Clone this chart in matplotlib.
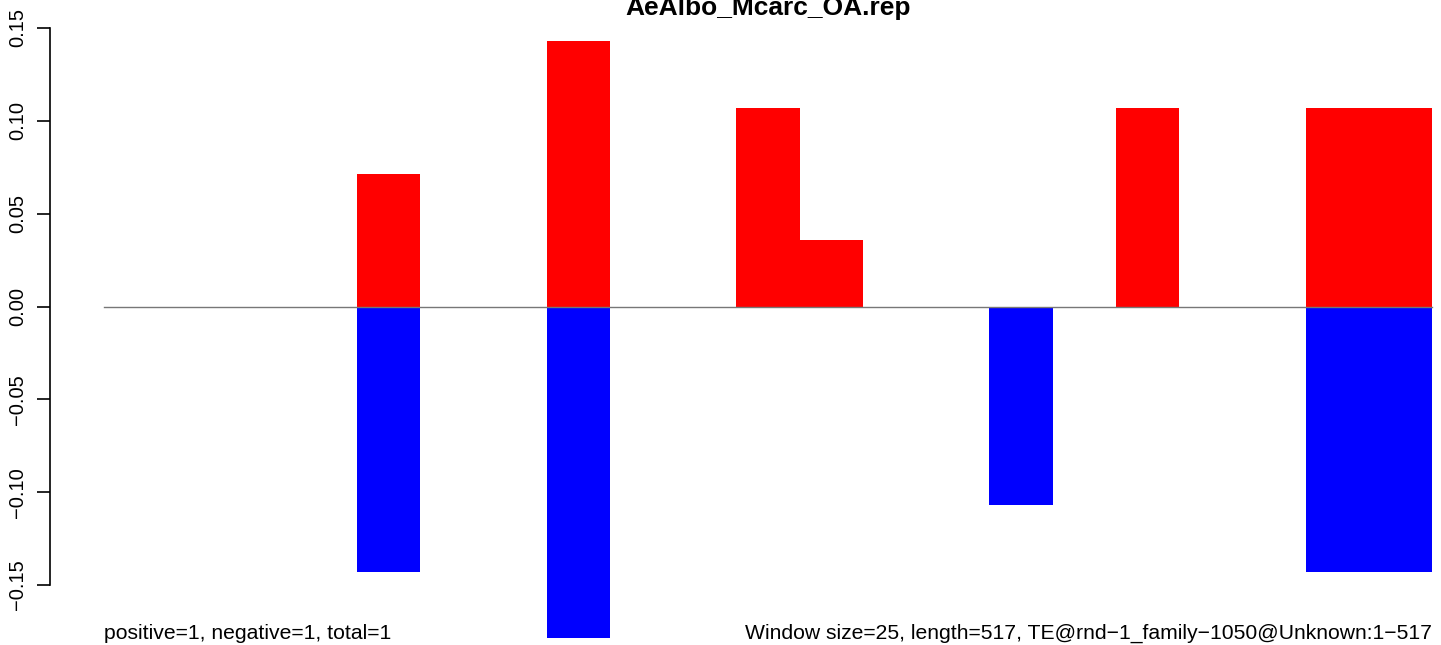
import numpy as np
import matplotlib
matplotlib.use('Agg')
from matplotlib import pyplot as plt

plt.rcParams['font.family'] = ['Liberation Sans', 'DejaVu Sans']

# window index (25 bp windows over 517 bp -> 21 windows)
n_win = 21
pos_idx = [4, 7, 10, 11, 16, 19, 20]
pos_val = [0.0714, 0.1429, 0.1071, 0.0357, 0.1071, 0.1071, 0.1071]
neg_idx = [4, 7, 14, 19, 20]
neg_val = [-0.1429, -0.1786, -0.1071, -0.1429, -0.1429]
yticks = [-0.15, -0.10, -0.05, 0.00, 0.05, 0.10, 0.15]
title = 'AeAlbo_Mcarc_OA.rep'
left_note = 'positive=1, negative=1, total=1'
right_note = 'Window size=25, length=517, TE@rnd\u22121_family\u22121050@Unknown:1\u2212517'

W, H = 1441, 645
fig = plt.figure(figsize=(W / 100, H / 100), dpi=100)
ax = fig.add_axes([0, 0, 1, 1])

# pixel -> data mapping
x0_px, win_px = 104, (1432 - 104) / n_win
y0_px, unit_px = 306.5, 1857.0
ax.set_xlim((0 - x0_px) / win_px, (W - x0_px) / win_px)
ax.set_ylim(-(H - y0_px) / unit_px, y0_px / unit_px)

ax.bar(pos_idx, pos_val, width=1, align='edge', color='#ff0000', linewidth=0)
ax.bar(neg_idx, neg_val, width=1, align='edge', color='#0000ff', linewidth=0)
ax.plot([0, n_win], [0, 0], color='#777777', lw=1)

for s in ['top', 'right', 'bottom']:
    ax.spines[s].set_visible(False)
ax.spines['left'].set_position(('data', (50 - x0_px) / win_px))
ax.spines['left'].set_bounds(-0.15, 0.15)
ax.spines['left'].set_linewidth(1.2)
ax.set_xticks([])
ax.set_yticks(yticks)
ax.set_yticklabels(['%.2f' % v if v >= 0 else '\u2212%.2f' % -v for v in yticks],
                   rotation=90, va='center', fontsize=14.5)
ax.tick_params(axis='y', direction='out', length=9.5, width=1.2, pad=7)

fig.text(768 / W, 1 - 15 / H, title, ha='center', va='baseline',
         fontsize=19, fontweight='bold')
fig.text(104 / W, 1 - 639 / H, left_note, ha='left', va='baseline', fontsize=15.2)
fig.text(1432 / W, 1 - 639 / H, right_note, ha='right', va='baseline', fontsize=15.2)

fig.savefig('out.png', dpi=100)
